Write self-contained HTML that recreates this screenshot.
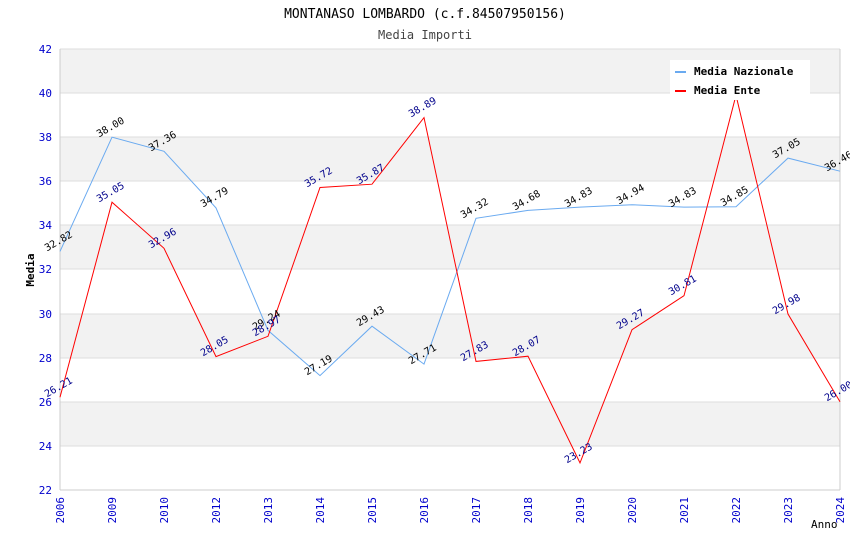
<!DOCTYPE html><html><head><meta charset="utf-8"><style>body{margin:0;background:#fff}svg{display:block}text{font-family:"DejaVu Sans Mono","Liberation Mono",monospace}</style></head><body>
<svg width="850" height="550" viewBox="0 0 850 550" xmlns="http://www.w3.org/2000/svg">
<rect width="850" height="550" fill="#fff"/>
<g fill="#f2f2f2"><rect x="60" y="49" width="780" height="44"/><rect x="60" y="137" width="780" height="44"/><rect x="60" y="225" width="780" height="44"/><rect x="60" y="314" width="780" height="44"/><rect x="60" y="402" width="780" height="44"/></g>
<g stroke="#ddd" stroke-width="1"><line x1="60" x2="840" y1="93" y2="93"/><line x1="60" x2="840" y1="137" y2="137"/><line x1="60" x2="840" y1="181" y2="181"/><line x1="60" x2="840" y1="225" y2="225"/><line x1="60" x2="840" y1="269" y2="269"/><line x1="60" x2="840" y1="314" y2="314"/><line x1="60" x2="840" y1="358" y2="358"/><line x1="60" x2="840" y1="402" y2="402"/><line x1="60" x2="840" y1="446" y2="446"/><line x1="60" x2="840" y1="49" y2="49"/></g>
<line x1="60" y1="49" x2="60" y2="490" stroke="#ccc"/><line x1="840" y1="49" x2="840" y2="490" stroke="#ccc"/><line x1="60" y1="490" x2="840" y2="490" stroke="#ccc"/>
<text x="425" y="18" font-size="13" text-anchor="middle">MONTANASO LOMBARDO (c.f.84507950156)</text>
<text x="425" y="39" font-size="12" text-anchor="middle" fill="#444">Media Importi</text>
<g font-size="11" fill="#00c" text-anchor="end"><text x="52" y="53">42</text><text x="52" y="97">40</text><text x="52" y="141">38</text><text x="52" y="185">36</text><text x="52" y="229">34</text><text x="52" y="273">32</text><text x="52" y="318">30</text><text x="52" y="362">28</text><text x="52" y="406">26</text><text x="52" y="450">24</text><text x="52" y="494">22</text></g>
<text transform="translate(34,270) rotate(-90)" font-size="11" font-weight="bold" text-anchor="middle">Media</text>
<text x="811" y="528" font-size="11">Anno</text>
<g font-size="11" fill="#00c" text-anchor="end">
<text transform="translate(64,497) rotate(-90)">2006</text><text transform="translate(116,497) rotate(-90)">2009</text><text transform="translate(168,497) rotate(-90)">2010</text><text transform="translate(220,497) rotate(-90)">2012</text><text transform="translate(272,497) rotate(-90)">2013</text><text transform="translate(324,497) rotate(-90)">2014</text><text transform="translate(376,497) rotate(-90)">2015</text><text transform="translate(428,497) rotate(-90)">2016</text><text transform="translate(480,497) rotate(-90)">2017</text><text transform="translate(532,497) rotate(-90)">2018</text><text transform="translate(584,497) rotate(-90)">2019</text><text transform="translate(636,497) rotate(-90)">2020</text><text transform="translate(688,497) rotate(-90)">2021</text><text transform="translate(740,497) rotate(-90)">2022</text><text transform="translate(792,497) rotate(-90)">2023</text><text transform="translate(844,497) rotate(-90)">2024</text></g>
<polyline fill="none" stroke="#6aaaf0" stroke-width="1" points="60,251.4 112,137.2 164,151.3 216,207.9 268,330.4 320,375.6 372,326.2 424,364.1 476,218.3 528,210.4 580,207.1 632,204.7 684,207.1 736,206.7 788,158.1 840,171.2"/>
<polyline fill="none" stroke="#f00" stroke-width="1" points="60,397.2 112,202.2 164,248.3 216,356.6 268,336.3 320,187.5 372,184.2 424,117.6 476,361.4 528,356.2 580,462.9 632,329.7 684,295.7 736,95.3 788,314 840,401.8"/>
<g font-size="10" text-anchor="middle">
<text transform="translate(60,244) rotate(-30)">32.82</text><text transform="translate(112,130) rotate(-30)">38.00</text><text transform="translate(164,144) rotate(-30)">37.36</text><text transform="translate(216,200) rotate(-30)">34.79</text><text transform="translate(268,323) rotate(-30)">29.24</text><text transform="translate(320,368) rotate(-30)">27.19</text><text transform="translate(372,319) rotate(-30)">29.43</text><text transform="translate(424,357) rotate(-30)">27.71</text><text transform="translate(476,211) rotate(-30)">34.32</text><text transform="translate(528,203) rotate(-30)">34.68</text><text transform="translate(580,200) rotate(-30)">34.83</text><text transform="translate(632,197) rotate(-30)">34.94</text><text transform="translate(684,200) rotate(-30)">34.83</text><text transform="translate(736,199) rotate(-30)">34.85</text><text transform="translate(788,151) rotate(-30)">37.05</text><text transform="translate(840,164) rotate(-30)">36.46</text></g>
<g font-size="10" text-anchor="middle" fill="#00008b">
<text transform="translate(60,390) rotate(-30)">26.21</text><text transform="translate(112,195) rotate(-30)">35.05</text><text transform="translate(164,241) rotate(-30)">32.96</text><text transform="translate(216,349) rotate(-30)">28.05</text><text transform="translate(268,329) rotate(-30)">28.97</text><text transform="translate(320,180) rotate(-30)">35.72</text><text transform="translate(372,177) rotate(-30)">35.87</text><text transform="translate(424,110) rotate(-30)">38.89</text><text transform="translate(476,354) rotate(-30)">27.83</text><text transform="translate(528,349) rotate(-30)">28.07</text><text transform="translate(580,456) rotate(-30)">23.23</text><text transform="translate(632,322) rotate(-30)">29.27</text><text transform="translate(684,288) rotate(-30)">30.81</text><text transform="translate(788,307) rotate(-30)">29.98</text><text transform="translate(840,394) rotate(-30)">26.00</text></g>
<rect x="670" y="60" width="140" height="40" fill="#fff"/>
<rect x="675" y="71" width="11" height="2" fill="#6aaaf0"/><rect x="675" y="90" width="11" height="2" fill="#f00"/>
<text x="694" y="75" font-size="11" font-weight="bold">Media Nazionale</text>
<text x="694" y="94" font-size="11" font-weight="bold">Media Ente</text>
</svg></body></html>
